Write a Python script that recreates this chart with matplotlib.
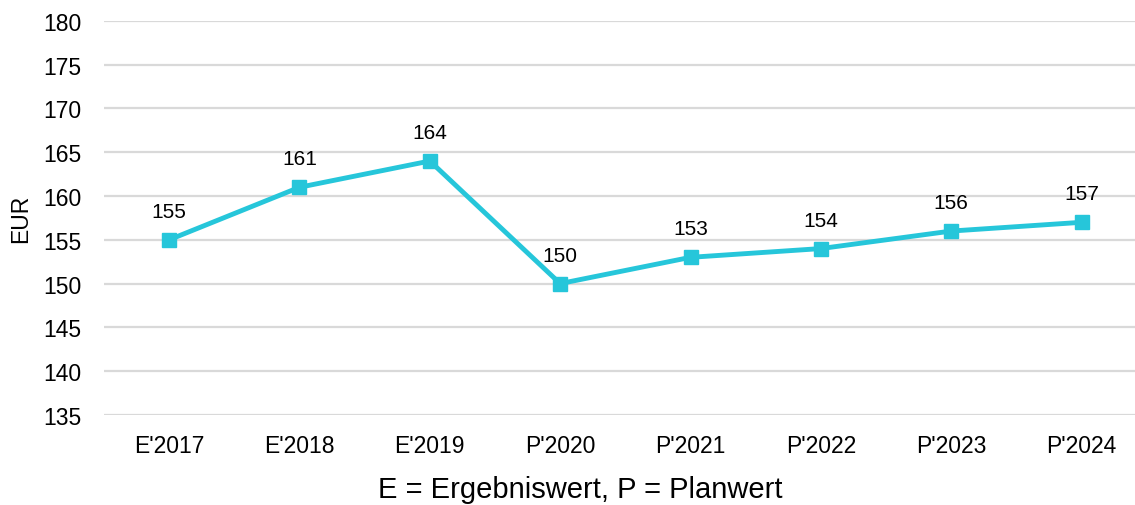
import matplotlib
matplotlib.use("Agg")
import matplotlib.pyplot as plt

# ── Data ──────────────────────────────────────────────────────────────────────
categories = ["E'2017", "E'2018", "E'2019", "P'2020", "P'2021", "P'2022", "P'2023", "P'2024"]
values = [155, 161, 164, 150, 153, 154, 156, 157]
y_ticks = [135, 140, 145, 150, 155, 160, 165, 170, 175, 180]

LINE_COLOR = "#26C6DA"
GRID_COLOR = "#D9D9D9"
TEXT_COLOR = "#000000"

plt.rcParams["font.family"] = ["Liberation Sans", "DejaVu Sans"]

fig = plt.figure(figsize=(11.35, 5.06), dpi=100, facecolor="white")
ax = fig.add_axes([0.0916, 0.178, 0.9084, 0.7787])

x = list(range(len(categories)))
ax.plot(x, values, color=LINE_COLOR, linewidth=3.5, marker="s", markersize=10,
        zorder=5, clip_on=False)

for xi, v in zip(x, values):
    ax.annotate(str(v), xy=(xi, v), xytext=(0, 16.5), textcoords="offset points",
                ha="center", va="baseline", fontsize=15, color=TEXT_COLOR)

ax.set_xlim(-0.5, 7.41)
ax.set_ylim(135, 180)
ax.set_yticks(y_ticks)
ax.set_xticks(x)
ax.set_xticklabels(categories)
ax.tick_params(axis="both", length=0, labelsize=16.5, colors=TEXT_COLOR)
ax.tick_params(axis="x", pad=14)
ax.tick_params(axis="y", pad=16)

ax.grid(True, axis="y", color=GRID_COLOR, linewidth=1.6)
ax.set_axisbelow(True)
for spine in ax.spines.values():
    spine.set_visible(False)

ax.set_ylabel("EUR", fontsize=16.5, color=TEXT_COLOR, labelpad=8)

# footnote sits low, as in the reference, but keep descenders inside the canvas
fig.text(0.511, 0.015, "E = Ergebniswert, P = Planwert", ha="center", va="baseline",
         fontsize=21, color=TEXT_COLOR)

fig.savefig("out.png", dpi=100, facecolor="white")
